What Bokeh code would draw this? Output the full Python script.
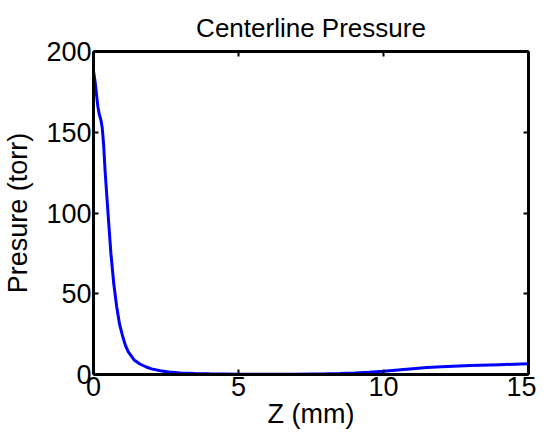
from bokeh.plotting import figure
from bokeh.models import LinearAxis, Range1d, FixedTicker
from bokeh.embed import file_html
from bokeh.resources import INLINE

z_mm = [0.0, 0.05, 0.1, 0.15, 0.2, 0.25, 0.3, 0.35, 0.4, 0.5, 0.6, 0.7, 0.8, 0.9,
        1.0, 1.1, 1.2, 1.4, 1.6, 1.8, 2.0, 2.3, 2.6, 3.0, 3.5, 4.0, 5.0, 6.0,
        7.0, 8.0, 8.5, 9.0, 9.5, 10.0, 10.5, 11.0, 11.5, 12.0, 13.0, 14.0, 15.0]
pressure_torr = [188, 182, 174, 166, 161, 158, 153, 142, 126, 100, 75, 56, 42, 31,
                 24, 18, 14, 9.0, 6.5, 4.8, 3.5, 2.3, 1.6, 1.0, 0.6, 0.4, 0.2, 0.2,
                 0.2, 0.4, 0.6, 0.9, 1.4, 2.0, 2.8, 3.6, 4.3, 4.8, 5.5, 6.1, 6.6]
x_ticks = [0, 5, 10, 15]
y_ticks = [0, 50, 100, 150, 200]

FONT = "Liberation Sans"

p = figure(width=536, height=432, output_backend="svg", toolbar_location=None,
           x_range=Range1d(0, 15), y_range=Range1d(0, 200),
           min_border_left=93, min_border_right=8, min_border_top=51,
           min_border_bottom=58, x_axis_location=None, y_axis_location=None)
p.frame_width = 435
p.frame_height = 323

p.title.text = "Centerline Pressure"
p.title.align = "center"
p.title.text_font = FONT
p.title.text_font_size = "26px"
p.title.text_font_style = "normal"
p.title.text_color = "black"
p.title.offset = 0
p.title.standoff = 18

p.grid.visible = False
p.outline_line_color = None
p.background_fill_color = "white"
p.border_fill_color = "white"

def make_axis(ticks, label=None, show_labels=True, label_standoff=0):
    ax = LinearAxis(ticker=FixedTicker(ticks=ticks))
    ax.axis_line_width = 3
    ax.axis_line_color = "black"
    ax.major_tick_in = 5
    ax.major_tick_out = 0
    ax.major_tick_line_width = 2
    ax.minor_tick_line_color = None
    ax.major_label_text_font = FONT
    ax.major_label_text_font_size = "27px"
    ax.major_label_text_color = "black"
    ax.major_label_standoff = 2
    if not show_labels:
        ax.major_label_text_font_size = "0px"
        ax.major_label_text_color = None
    if label:
        ax.axis_label = label
        ax.axis_label_text_font = FONT
        ax.axis_label_text_font_size = "27px"
        ax.axis_label_text_font_style = "normal"
        ax.axis_label_text_color = "black"
        ax.axis_label_standoff = label_standoff
    return ax

p.add_layout(make_axis(x_ticks, "Z (mm)"), "below")
p.add_layout(make_axis(y_ticks, "Presure (torr)", label_standoff=10), "left")
p.add_layout(make_axis(x_ticks, show_labels=False), "above")
p.add_layout(make_axis(y_ticks, show_labels=False), "right")

p.line(z_mm, pressure_torr, line_color="#0000ff", line_width=3)

open("out.html", "w").write(file_html(p, INLINE))
